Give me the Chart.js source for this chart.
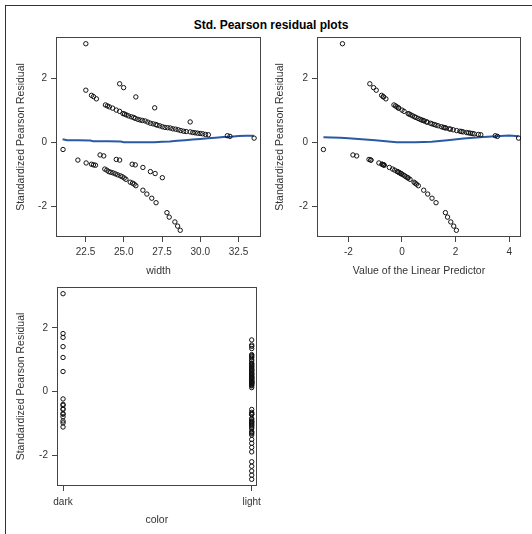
<!DOCTYPE html>
<html>
<head>
<meta charset="utf-8">
<script src="https://cdn.jsdelivr.net/npm/chart.js@4.4.0/dist/chart.umd.min.js"></script>
<style>
  body { margin: 0; background: #fff; width: 532px; height: 534px; overflow: hidden; position: relative; }
  #frame { position: absolute; left: 5px; top: 5px; width: 600px; height: 600px; border-top: 1px solid #333; border-left: 1px solid #333; }
  #title { position: absolute; left: 0; top: 18px; width: 542px; text-align: center; font: bold 12px 'Liberation Sans', Arial, sans-serif; color: #000; }
  canvas { position: absolute; }
</style>
</head>
<body>
<div id="frame"></div>
<div id="title">Std. Pearson residual plots</div>
<canvas id="chart-width" width="266" height="282" style="left:0;top:0"></canvas>
<canvas id="chart-eta" width="266" height="282" style="left:266px;top:0"></canvas>
<canvas id="chart-color" width="266" height="270" style="left:0;top:264px"></canvas>
<script>
// Observations: dark crabs first, then light (upper branch, lower branch)
const width = [
    22.52, 24.73, 24.99, 25.79, 27.02, 29.34,
    21.03, 23.45, 23.69, 24.51, 24.73, 25.55, 25.75, 26.25, 26.74, 27.05, 27.52,
    22.52, 22.89, 23.02, 23.21, 23.80, 23.93, 24.06, 24.27, 24.51, 24.73, 24.95, 25.05,
    25.16, 25.31, 25.49, 25.64, 25.75, 25.92, 26.07, 26.22, 26.40, 26.57, 26.74, 26.92,
    27.09, 27.18, 27.35, 27.52, 27.69, 27.87, 28.04, 28.21, 28.39, 28.56, 28.73, 28.91,
    29.08, 29.34, 29.51, 29.66, 29.82, 29.99, 30.16, 30.34, 30.53, 31.77, 31.94, 33.52,
    22.00, 22.54, 22.89, 23.02, 23.15, 23.76, 23.89, 24.02, 24.15, 24.30, 24.45, 24.60,
    24.77, 24.90, 25.03, 25.14, 25.42, 25.57, 25.68, 25.79, 26.25, 26.51, 26.83, 27.11,
    27.82, 27.97, 28.34, 28.52, 28.69
];
const linPred = [
    -2.22, -1.20, -1.06, -0.69, -0.14, 0.92,
    -2.93, -1.83, -1.69, -1.23, -1.16, -0.74, -0.69, -0.47, -0.17, -0.04, 0.21,
    -0.96, -0.76, -0.70, -0.60, -0.30, -0.24, -0.19, -0.12, 0.00, 0.08, 0.23, 0.27,
    0.33, 0.40, 0.47, 0.52, 0.60, 0.68, 0.74, 0.79, 0.83, 0.94, 1.06, 1.12,
    1.20, 1.27, 1.35, 1.47, 1.55, 1.60, 1.64, 1.76, 1.81, 1.91, 2.04, 2.16,
    2.22, 2.28, 2.41, 2.48, 2.55, 2.62, 2.69, 2.85, 2.94, 3.48, 3.56, 4.35,
    -1.16, -0.86, -0.74, -0.68, -0.66, -0.35, -0.27, -0.17, -0.12, -0.08, -0.02, 0.04,
    0.10, 0.15, 0.23, 0.30, 0.45, 0.49, 0.54, 0.61, 0.81, 0.96, 1.12, 1.27,
    1.62, 1.70, 1.82, 1.93, 2.03
];
const residual = [
    3.07, 1.82, 1.70, 1.41, 1.07, 0.63,
    -0.23, -0.40, -0.43, -0.54, -0.56, -0.69, -0.71, -0.79, -0.92, -0.98, -1.11,
    1.62, 1.46, 1.42, 1.35, 1.16, 1.13, 1.10, 1.06, 1.00, 0.96, 0.89, 0.875,
    0.85, 0.82, 0.79, 0.77, 0.74, 0.71, 0.69, 0.675, 0.66, 0.625, 0.59, 0.57,
    0.55, 0.53, 0.51, 0.48, 0.46, 0.45, 0.44, 0.415, 0.405, 0.385, 0.36, 0.34,
    0.33, 0.32, 0.30, 0.29, 0.28, 0.27, 0.26, 0.24, 0.23, 0.20, 0.18, 0.125,
    -0.56, -0.65, -0.69, -0.71, -0.72, -0.84, -0.875, -0.92, -0.94, -0.96, -0.99, -1.02,
    -1.05, -1.08, -1.12, -1.16, -1.25, -1.28, -1.31, -1.36, -1.50, -1.62, -1.75, -1.89,
    -2.20, -2.34, -2.49, -2.62, -2.75
];
const colorCats = ['dark', 'light'];
const color = residual.map((r, i) => i < 17 ? 'dark' : 'light');

// Smoothed residual curves (blue)
const smoothWidth = [21.0, 21.3, 22.0, 22.8, 23.0, 24.0, 24.8, 25.0, 26.0, 27.0, 27.5, 28.0, 28.5, 29.0, 29.5, 30.0, 30.5, 31.0, 31.5, 32.0, 32.5, 33.0, 33.5];
const smoothWidthRes = [0.09, 0.06, 0.06, 0.05, 0.03, 0.03, 0.02, 0.0, 0.0, 0.0, 0.01, 0.02, 0.04, 0.06, 0.08, 0.10, 0.12, 0.14, 0.16, 0.17, 0.19, 0.20, 0.20];
const smoothEta = [-2.93, -2.3, -2.0, -1.5, -1.0, -0.5, -0.2, 0.5, 1.1, 1.7, 2.3, 2.9, 3.5, 4.0, 4.35];
const smoothEtaRes = [0.155, 0.14, 0.12, 0.09, 0.06, 0.02, 0.0, 0.0, 0.01, 0.06, 0.11, 0.15, 0.18, 0.21, 0.18];

// Tick labels
const residTicks = [-2, 0, 2];
const widthTicks = [22.5, 25, 27.5, 30, 32.5];
const etaTicks = [-2, 0, 2, 4];
const colorTicks = [0, 1];

const FONT = "'Liberation Sans', Arial, sans-serif";
const TXT = '#333';

// Marco do painel
const framePlugin = {
    id: 'frame',
    beforeDatasetsDraw(chart) {
        const { ctx, chartArea: a } = chart;
        ctx.save();
        ctx.strokeStyle = '#444';
        ctx.lineWidth = 1;
        ctx.strokeRect(Math.round(a.left) + 0.5, Math.round(a.top) + 0.5,
            Math.round(a.right - a.left) - 1, Math.round(a.bottom - a.top) - 1);
        ctx.restore();
    }
};

function pointSet(xs) {
    return {
        data: xs.map((x, i) => ({ x: x, y: residual[i] })),
        showLine: false,
        pointStyle: 'circle',
        pointRadius: 2.2,
        borderWidth: 1,
        borderColor: '#111',
        backgroundColor: 'rgba(0,0,0,0)'
    };
}

function lineSet(xs, ys) {
    return {
        data: xs.map((x, i) => ({ x: x, y: ys[i] })),
        showLine: true,
        pointRadius: 0,
        borderColor: '#2b5aa5',
        borderWidth: 2,
        tension: 0
    };
}

function makeChart(id, cfg) {
    const xAxis = {
        type: 'linear',
        min: cfg.xMin,
        max: cfg.xMax,
        afterBuildTicks: s => { s.ticks = cfg.xTicks.map(v => ({ value: v })); },
        afterFit: s => { s.height = cfg.xHeight; },
        grid: { drawOnChartArea: false, drawTicks: true, tickLength: 5, color: '#444' },
        border: { display: false },
        ticks: { font: { family: FONT, size: 10 }, color: TXT, padding: cfg.xTickPad, maxRotation: 0, autoSkip: false, callback: cfg.xLabel },
        title: { display: true, text: cfg.xTitle, font: { family: FONT, size: 10.5 }, color: TXT, padding: { top: 0, bottom: cfg.xTitlePad } }
    };
    const yAxis = {
        type: 'linear',
        min: -2.96,
        max: 3.28,
        afterBuildTicks: s => { s.ticks = residTicks.map(v => ({ value: v })); },
        afterFit: s => { s.width = cfg.yWidth; },
        grid: { drawOnChartArea: false, drawTicks: true, tickLength: 5, color: '#444' },
        border: { display: false },
        ticks: { font: { family: FONT, size: 10 }, color: TXT, padding: 4 },
        title: { display: true, text: 'Standardized Pearson Residual', font: { family: FONT, size: 10.5 }, color: TXT, padding: { top: cfg.yTitlePad, bottom: 0 } }
    };
    return new Chart(document.getElementById(id), {
        type: 'scatter',
        data: { datasets: cfg.datasets },
        options: {
            responsive: false,
            animation: false,
            devicePixelRatio: 1,
            events: [],
            layout: { padding: cfg.padding },
            plugins: { legend: { display: false }, tooltip: { enabled: false } },
            scales: { x: xAxis, y: yAxis }
        },
        plugins: [framePlugin]
    });
}

makeChart('chart-width', {
    datasets: [pointSet(width), lineSet(smoothWidth, smoothWidthRes)],
    xMin: 20.57, xMax: 33.97, xTicks: widthTicks, xLabel: v => Number(v).toFixed(1),
    xTitle: 'width', xHeight: 45, xTickPad: 4, xTitlePad: 5,
    yWidth: 56, yTitlePad: 14.4,
    padding: { top: 37, right: 3, left: 0, bottom: 0 }
});

makeChart('chart-eta', {
    datasets: [pointSet(linPred), lineSet(smoothEta, smoothEtaRes)],
    xMin: -3.17, xMax: 4.44, xTicks: etaTicks, xLabel: v => String(v),
    xTitle: 'Value of the Linear Predictor', xHeight: 45, xTickPad: 4, xTitlePad: 5,
    yWidth: 51, yTitlePad: 8,
    padding: { top: 37, right: 11, left: 0, bottom: 0 }
});

makeChart('chart-color', {
    datasets: [pointSet(color.map(c => colorCats.indexOf(c)))],
    xMin: -0.032, xMax: 1.026, xTicks: colorTicks, xLabel: v => colorCats[v],
    xTitle: 'color', xHeight: 48, xTickPad: 5, xTitlePad: 7.7,
    yWidth: 57, yTitlePad: 14.4,
    padding: { top: 23, right: 3, left: 0, bottom: 0 }
});
</script>
</body>
</html>
